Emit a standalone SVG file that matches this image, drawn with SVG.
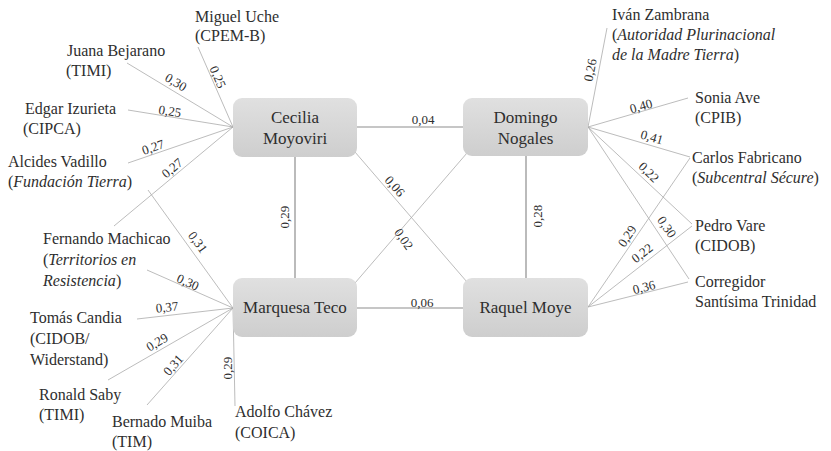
<svg xmlns="http://www.w3.org/2000/svg" width="831" height="451" viewBox="0 0 831 451" font-family="'Liberation Serif', 'DejaVu Serif', serif">
<defs>
<linearGradient id="g" x1="0" y1="0" x2="0" y2="1">
<stop offset="0" stop-color="#e0e0e0"/>
<stop offset="1" stop-color="#cecece"/>
</linearGradient>
</defs>
<style>
text{font-family:'Liberation Serif','DejaVu Serif',serif;fill:#2e2e2e}
.t{font-size:16px}
.nd{font-size:17px;text-anchor:middle}
.w{font-size:13px;text-anchor:middle}
.i{font-style:italic}
.fan{stroke:#ababab;stroke-width:0.8;fill:none}
.core{stroke:#8e8e8e;stroke-width:1.2;fill:none}
.box{fill:url(#g)}
</style>
<rect width="831" height="451" fill="#ffffff"/>
<g id="connectors">
<line class="core" x1="357" y1="127" x2="463" y2="127"/>
<line class="core" x1="357" y1="308" x2="463" y2="308"/>
<line class="core" x1="295" y1="157" x2="295" y2="278"/>
<line class="core" x1="526" y1="156" x2="526" y2="278"/>
<line class="fan" x1="355" y1="152" x2="467" y2="282"/>
<line class="fan" x1="355" y1="283" x2="467" y2="153"/>
<line class="fan" x1="198" y1="47" x2="233" y2="127"/>
<line class="fan" x1="127" y1="63" x2="233" y2="127"/>
<line class="fan" x1="128" y1="110" x2="233" y2="127"/>
<line class="fan" x1="128" y1="163" x2="233" y2="127"/>
<line class="fan" x1="114" y1="226" x2="233" y2="127"/>
<line class="fan" x1="148" y1="190" x2="233" y2="308"/>
<line class="fan" x1="147" y1="270" x2="233" y2="308"/>
<line class="fan" x1="137" y1="319" x2="233" y2="308"/>
<line class="fan" x1="108" y1="380" x2="233" y2="308"/>
<line class="fan" x1="147" y1="405" x2="233" y2="308"/>
<line class="fan" x1="235" y1="406" x2="233" y2="308"/>
<line class="fan" x1="607" y1="28" x2="588" y2="127"/>
<line class="fan" x1="688" y1="98" x2="588" y2="127"/>
<line class="fan" x1="690" y1="157" x2="588" y2="127"/>
<line class="fan" x1="692" y1="224" x2="588" y2="127"/>
<line class="fan" x1="689" y1="279" x2="588" y2="127"/>
<line class="fan" x1="690" y1="158" x2="588" y2="307"/>
<line class="fan" x1="692" y1="226" x2="588" y2="307"/>
<line class="fan" x1="688" y1="282" x2="588" y2="307"/>
<g id="edge-labels">
<text class="w" transform="translate(423,119)" dy="0.35em">0,04</text>
<text class="w" transform="translate(422,302)" dy="0.35em">0,06</text>
<text class="w" transform="translate(284,217) rotate(-90)" dy="0.35em">0,29</text>
<text class="w" transform="translate(537,216) rotate(-90)" dy="0.35em">0,28</text>
<text class="w" transform="translate(395,186) rotate(49)" dy="0.35em">0,06</text>
<text class="w" transform="translate(404,239) rotate(55)" dy="0.35em">0,02</text>
<text class="w" transform="translate(218,77) rotate(67)" dy="0.35em">0,25</text>
<text class="w" transform="translate(176,82) rotate(31)" dy="0.35em">0,30</text>
<text class="w" transform="translate(170,111) rotate(9)" dy="0.35em">0,25</text>
<text class="w" transform="translate(153,147) rotate(-19)" dy="0.35em">0,27</text>
<text class="w" transform="translate(172,168) rotate(-40)" dy="0.35em">0,27</text>
<text class="w" transform="translate(198,242) rotate(54)" dy="0.35em">0,31</text>
<text class="w" transform="translate(188,282) rotate(24)" dy="0.35em">0,30</text>
<text class="w" transform="translate(167,307) rotate(-6)" dy="0.35em">0,37</text>
<text class="w" transform="translate(157,342) rotate(-30)" dy="0.35em">0,29</text>
<text class="w" transform="translate(173,365) rotate(-49)" dy="0.35em">0,31</text>
<text class="w" transform="translate(227,368) rotate(-90)" dy="0.35em">0,29</text>
<text class="w" transform="translate(590,70) rotate(-79)" dy="0.35em">0,26</text>
<text class="w" transform="translate(641,106) rotate(-16)" dy="0.35em">0,40</text>
<text class="w" transform="translate(652,137) rotate(16)" dy="0.35em">0,41</text>
<text class="w" transform="translate(649,172) rotate(45)" dy="0.35em">0,22</text>
<text class="w" transform="translate(667,227) rotate(56)" dy="0.35em">0,30</text>
<text class="w" transform="translate(627,236) rotate(-56)" dy="0.35em">0,29</text>
<text class="w" transform="translate(642,253) rotate(-38)" dy="0.35em">0,22</text>
<text class="w" transform="translate(644,287) rotate(-14)" dy="0.35em">0,36</text>
</g>
</g>
<g id="cecilia">
<rect class="box" x="233" y="98" width="124" height="59" rx="9"/>
<text class="nd" x="295" y="123">Cecilia</text>
<text class="nd" x="295" y="144">Moyoviri</text>
</g>
<g id="domingo">
<rect class="box" x="463" y="98" width="125" height="58" rx="9"/>
<text class="nd" x="525.5" y="123">Domingo</text>
<text class="nd" x="525.5" y="144">Nogales</text>
</g>
<g id="marquesa">
<rect class="box" x="233" y="278" width="124" height="59" rx="9"/>
<text class="nd" x="295" y="313">Marquesa Teco</text>
</g>
<g id="raquel">
<rect class="box" x="463" y="278" width="125" height="59" rx="9"/>
<text class="nd" x="525.5" y="313">Raquel Moye</text>
</g>
<g id="miguel"><text class="t" x="195" y="22">Miguel Uche</text><text class="t" x="195" y="41">(CPEM-B)</text></g>
<g id="juana"><text class="t" x="67" y="56">Juana Bejarano</text><text class="t" x="66" y="76">(TIMI)</text></g>
<g id="edgar"><text class="t" x="25" y="114">Edgar Izurieta</text><text class="t" x="23" y="134">(CIPCA)</text></g>
<g id="alcides"><text class="t" x="8" y="167">Alcides Vadillo</text><text class="t" x="8" y="187">(<tspan class="i">Fundación Tierra</tspan>)</text></g>
<g id="fernando"><text class="t" x="43" y="244">Fernando Machicao</text><text class="t" x="43" y="265">(<tspan class="i">Territorios en</tspan></text><text class="t" x="43" y="286"><tspan class="i">Resistencia</tspan>)</text></g>
<g id="tomas"><text class="t" x="30" y="323">Tomás Candia</text><text class="t" x="30" y="344">(CIDOB/</text><text class="t" x="30" y="365">Widerstand)</text></g>
<g id="ronald"><text class="t" x="39" y="400">Ronald Saby</text><text class="t" x="39" y="420">(TIMI)</text></g>
<g id="bernado"><text class="t" x="112" y="427">Bernado Muiba</text><text class="t" x="112" y="447">(TIM)</text></g>
<g id="adolfo"><text class="t" x="235" y="417">Adolfo Chávez</text><text class="t" x="235" y="438">(COICA)</text></g>
<g id="ivan"><text class="t" x="612" y="20">Iván Zambrana</text><text class="t" x="612" y="40">(<tspan class="i">Autoridad Plurinacional</tspan></text><text class="t" x="612" y="60"><tspan class="i">de la Madre Tierra</tspan>)</text></g>
<g id="sonia"><text class="t" x="695" y="103">Sonia Ave</text><text class="t" x="695" y="123">(CPIB)</text></g>
<g id="carlos"><text class="t" x="692" y="163">Carlos Fabricano</text><text class="t" x="692" y="183">(<tspan class="i">Subcentral Sécure</tspan>)</text></g>
<g id="pedro"><text class="t" x="695" y="231">Pedro Vare</text><text class="t" x="695" y="251">(CIDOB)</text></g>
<g id="corregidor"><text class="t" x="695" y="287">Corregidor</text><text class="t" x="695" y="307">Santísima Trinidad</text></g>
</svg>
